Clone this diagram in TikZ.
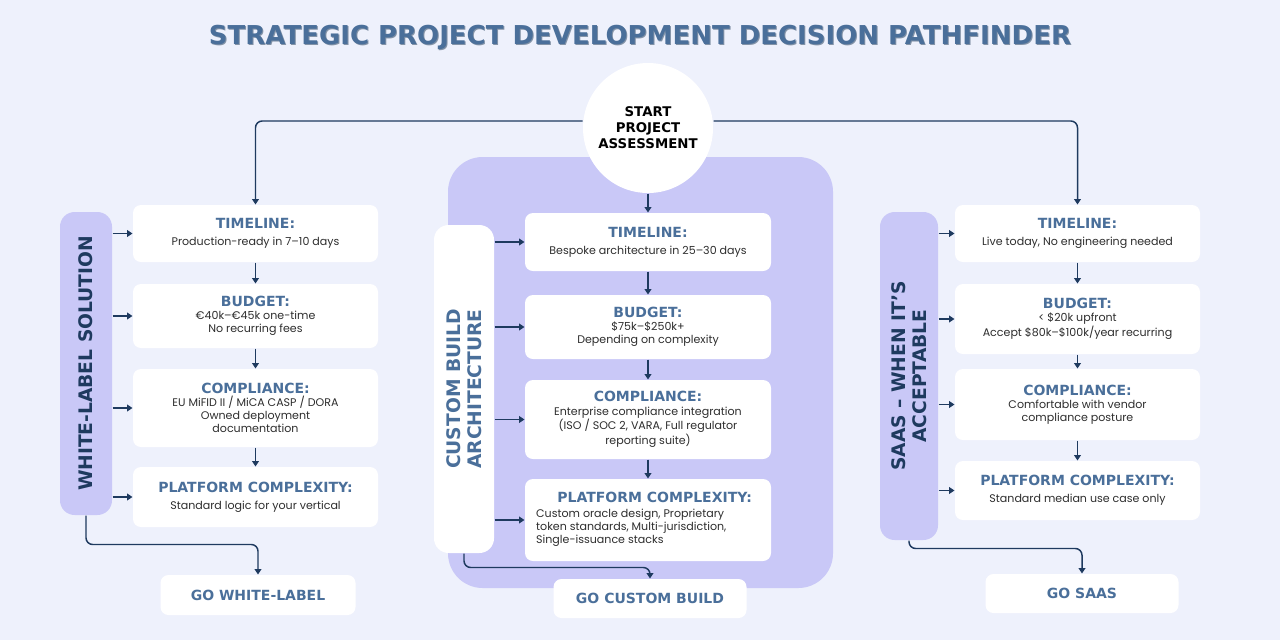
\documentclass[tikz,border=0pt]{standalone}
\usepackage{fontspec}
\setmainfont{Poppins}
\newfontfamily\headfont{DejaVu Sans}
\usetikzlibrary{arrows.meta,positioning}
\definecolor{bgblue}{HTML}{EEF1FC}
\definecolor{lavender}{HTML}{C9C8F7}
\definecolor{headblue}{HTML}{4A6F9A}
\definecolor{navy}{HTML}{1E3A5F}
\definecolor{bodygray}{HTML}{2E2E2E}
\newcommand{\cardhead}[1]{{\headfont\bfseries\fontsize{10.5}{12}\selectfont\color{headblue}#1}}
\tikzset{every picture/.style={line width=0.75pt},
  card/.style={fill=white,rounded corners=6pt,inner sep=0pt,align=center,text=bodygray,font=\fontsize{8.3}{9.8}\selectfont},
  head/.style={font=\headfont\bfseries\fontsize{10.5}{12}\selectfont,text=headblue},
  bar/.style={rounded corners=11pt,inner sep=0pt},
  link/.style={draw=navy,line width=1.1pt,-{Triangle[length=4pt,width=5pt]},rounded corners=5pt}}
\begin{document}
\begin{tikzpicture}[x=0.75pt,y=0.75pt,yscale=-1,xscale=1]
\useasboundingbox (0,0) rectangle (1280,640);
\fill[bgblue] (0,0) rectangle (1280,640);

%Title
\node[font=\headfont\bfseries\fontsize{19.5}{22}\selectfont,text=navy!55] at (641,38) {STRATEGIC PROJECT DEVELOPMENT DECISION PATHFINDER};
\node (title) [font=\headfont\bfseries\fontsize{19.5}{22}\selectfont,text=headblue] at (640,37) {STRATEGIC PROJECT DEVELOPMENT DECISION PATHFINDER};

%Center background
\fill[lavender,rounded corners=26pt] (448,157) rectangle (833,588);

%Start
\node (start) [circle,fill=white,minimum size=130*0.75pt,inner sep=0pt,align=center,font=\headfont\bfseries\fontsize{10}{12}\selectfont,text=black] at (648,128) {START\\PROJECT\\ASSESSMENT};

%Left column
\node (wlbar) [bar,fill=lavender,minimum width=52*0.75pt,minimum height=303*0.75pt] at (86,363.5) {};
\node[rotate=90,font=\headfont\bfseries\fontsize{14}{16}\selectfont,text=navy] at (wlbar.center) {WHITE-LABEL SOLUTION};
\node (wltime) [card,minimum width=245*0.75pt,minimum height=57*0.75pt] at (255.5,233.5) {\cardhead{TIMELINE:}\\[3pt]Production-ready in 7–10 days};
\node (wlbudget) [card,minimum width=245*0.75pt,minimum height=64*0.75pt] at (255.5,316) {\cardhead{BUDGET:}\\€40k–€45k one-time\\No recurring fees};
\node (wlcomp) [card,minimum width=245*0.75pt,minimum height=78*0.75pt] at (255.5,408) {\cardhead{COMPLIANCE:}\\EU MiFID II / MiCA CASP / DORA\\Owned deployment\\documentation};
\node (wlplat) [card,minimum width=245*0.75pt,minimum height=60*0.75pt] at (255.5,497) {\cardhead{PLATFORM COMPLEXITY:}\\[3pt]Standard logic for your vertical};
\node (wlgo) [card,head,minimum width=195*0.75pt,minimum height=40*0.75pt] at (258,595) {GO WHITE-LABEL};

%Center column
\node (cbbar) [bar,fill=white,minimum width=60*0.75pt,minimum height=328*0.75pt] at (464,389) {};
\node[rotate=90,align=center,font=\headfont\bfseries\fontsize{14}{16}\selectfont,text=headblue] at (cbbar.center) {CUSTOM BUILD\\ARCHITECTURE};
\node (cbtime) [card,minimum width=246*0.75pt,minimum height=58*0.75pt] at (648,242) {\cardhead{TIMELINE:}\\[3pt]Bespoke architecture in 25–30 days};
\node (cbbudget) [card,minimum width=246*0.75pt,minimum height=64*0.75pt] at (648,327) {\cardhead{BUDGET:}\\\$75k–\$250k+\\Depending on complexity};
\node (cbcomp) [card,minimum width=246*0.75pt,minimum height=79*0.75pt] at (648,419.5) {\cardhead{COMPLIANCE:}\\Enterprise compliance integration\\(ISO / SOC 2, VARA, Full regulator\\reporting suite)};
\node (cbplat) [card,minimum width=246*0.75pt,minimum height=82*0.75pt] at (648,520) {\begin{tabular}{@{}l@{}}\multicolumn{1}{c}{\hspace{1.2em}\cardhead{PLATFORM COMPLEXITY:}}\\[1pt]Custom oracle design, Proprietary\\token standards, Multi-jurisdiction,\\Single-issuance stacks\end{tabular}};
\node (cbgo) [card,head,minimum width=193*0.75pt,minimum height=39*0.75pt] at (650,598.5) {GO CUSTOM BUILD};

%Right column
\node (ssbar) [bar,fill=lavender,minimum width=58*0.75pt,minimum height=328*0.75pt] at (909,376) {};
\node[rotate=90,align=center,font=\headfont\bfseries\fontsize{14}{16}\selectfont,text=navy] at (ssbar.center) {SAAS – WHEN IT’S\\ACCEPTABLE};
\node (sstime) [card,minimum width=245*0.75pt,minimum height=57*0.75pt] at (1077.5,233.5) {\cardhead{TIMELINE:}\\[3pt]Live today, No engineering needed};
\node (ssbudget) [card,minimum width=245*0.75pt,minimum height=70*0.75pt] at (1077.5,319) {\cardhead{BUDGET:}\\< \$20k upfront\\Accept \$80k–\$100k/year recurring};
\node (sscomp) [card,minimum width=245*0.75pt,minimum height=71*0.75pt] at (1077.5,404.5) {\cardhead{COMPLIANCE:}\\Comfortable with vendor\\compliance posture};
\node (ssplat) [card,minimum width=245*0.75pt,minimum height=59*0.75pt] at (1077.5,490.5) {\cardhead{PLATFORM COMPLEXITY:}\\[3pt]Standard median use case only};
\node (ssgo) [card,head,minimum width=193*0.75pt,minimum height=39*0.75pt] at (1082,593.5) {GO SAAS};

%Connectors from start
\draw[link] ([yshift=-5.25pt]start.west) -| (wltime.north);
\draw[link] ([yshift=-5.25pt]start.east) -| (sstime.north);
\draw[link] (start.south) -- (cbtime.north);

%Bar to cards
\foreach \c in {wltime,wlbudget,wlcomp,wlplat} \draw[link] (wlbar.east |- \c.west) -- (\c.west);
\foreach \c in {cbtime,cbbudget,cbcomp,cbplat} \draw[link] (cbbar.east |- \c.west) -- (\c.west);
\foreach \c in {sstime,ssbudget,sscomp,ssplat} \draw[link] (ssbar.east |- \c.west) -- (\c.west);

%Card to card
\draw[link] (wltime) -- (wlbudget);
\draw[link] (wlbudget) -- (wlcomp);
\draw[link] (wlcomp) -- (wlplat);
\draw[link] (cbtime) -- (cbbudget);
\draw[link] (cbbudget) -- (cbcomp);
\draw[link] (cbcomp) -- (cbplat);
\draw[link] (sstime) -- (ssbudget);
\draw[link] (ssbudget) -- (sscomp);
\draw[link] (sscomp) -- (ssplat);

%Bars to outcomes
\draw[link] (wlbar.south) |- ([yshift=-22.5pt]wlgo.north) -- (wlgo.north);
\draw[link] (cbbar.south) |- ([yshift=-8.25pt]cbgo.north) -- (cbgo.north);
\draw[link] (ssbar.south) |- ([yshift=-18.75pt]ssgo.north) -- (ssgo.north);

\end{tikzpicture}
\end{document}
